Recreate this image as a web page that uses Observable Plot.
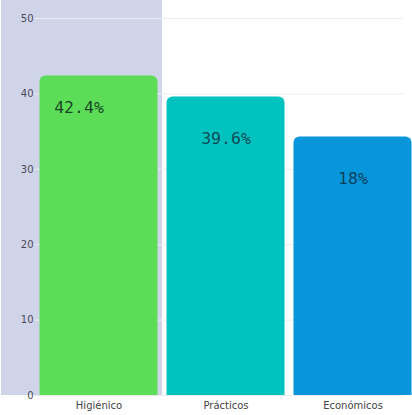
<!DOCTYPE html>
<html>
<head>
<meta charset="utf-8">
<script src="https://cdn.jsdelivr.net/npm/d3@7"></script>
<script src="https://cdn.jsdelivr.net/npm/@observablehq/plot@0.6"></script>
<style>
  html, body { margin: 0; padding: 0; background: #fff; }
  #chart { width: 412px; height: 415px; }
</style>
</head>
<body>
<div id="chart"></div>
<script>
// Reasons given, with the height of each bar and the share printed on it
const categories = ["Higiénico", "Prácticos", "Económicos"];
const values = [42.4, 39.6, 34.3];
const shares = [42.4, 39.6, 18];
const colors = ["#5ddc58", "#00c3c0", "#0896da"];
const yTicks = [0, 10, 20, 30, 40, 50];
const yMax = 52.4;
const highlighted = ["Higiénico"];

const rows = categories.map((c, i) => ({cat: c, value: values[i], share: shares[i]}));
const fmt = d => `${d.share}%`;
const labelStyle = {
  fontFamily: "DejaVu Sans Mono, monospace", fontSize: 16.5, letterSpacing: 2.8
};

const chart = Plot.plot({
  width: 412,
  height: 415,
  marginTop: 0,
  marginBottom: 20,
  marginLeft: 34,
  marginRight: -4,
  style: {fontFamily: "DejaVu Sans, sans-serif", fontSize: "10px", color: "#555", background: "white"},
  x: {domain: categories, padding: 0, label: null},
  y: {domain: [0, yMax], label: null},
  color: {domain: categories, range: colors},
  marks: [
    // shaded band behind the first category, reaching across the axis
    Plot.barY(highlighted, {x: d => d, y1: 0, y2: yMax, fill: "#d0d4e8", insetLeft: -34}),
    Plot.gridY(yTicks, {stroke: "#ececf0", strokeOpacity: 1, insetRight: 13}),
    // bars with rounded tops; the bottom is pushed below the frame and clipped
    Plot.barY(rows, {
      x: "cat", y1: -3, y2: "value", fill: "cat",
      rx: 6, insetLeft: 4.5, insetRight: 4.5, clip: true
    }),
    Plot.text(rows.slice(0, 1), {
      x: "cat", y: "value", text: fmt, dy: 32, dx: -20,
      ...labelStyle, fill: "#0c2a1c", fillOpacity: 0.85
    }),
    Plot.text(rows.slice(1), {
      x: "cat", y: "value", text: fmt, dy: 42,
      ...labelStyle, fill: "#0c2a3a", fillOpacity: 0.8
    }),
    Plot.axisY(yTicks, {tickSize: 0, tickPadding: 1, fill: "#4a4a5a"}),
    Plot.axisX({tickSize: 0, tickPadding: 6, fill: "#444"})
  ]
});

document.getElementById("chart").appendChild(chart);
</script>
</body>
</html>
